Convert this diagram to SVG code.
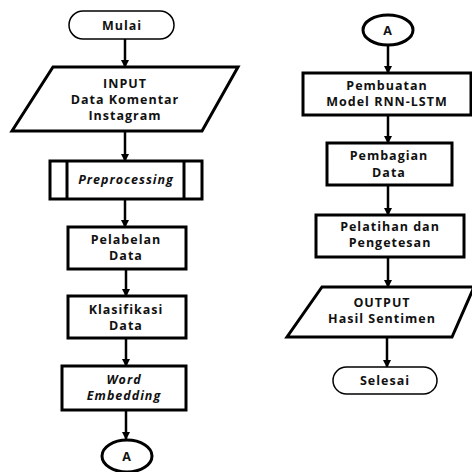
<svg xmlns="http://www.w3.org/2000/svg" width="472" height="472" viewBox="0 0 472 472">
<defs>
<marker id="ah" markerWidth="8" markerHeight="8" refX="7" refY="4" orient="auto" markerUnits="userSpaceOnUse">
<path d="M0,0 L8,4 L0,8 Z" fill="#000"/>
</marker>
<style>
.thin{fill:#fff;stroke:#000;stroke-width:1.5}
.thick{fill:#fff;stroke:#000;stroke-width:3}
.c{stroke:#000;stroke-width:2.5;fill:none;marker-end:url(#ah)}
text{font-family:"Open Sans","DejaVu Sans",sans-serif;font-weight:bold;font-size:12.5px;text-anchor:middle;fill:#111;letter-spacing:1px}
.i{font-style:italic}
</style>
</defs>
<rect width="472" height="472" fill="#fff"/>
<g id="connectors">
<line class="c" x1="125" y1="39" x2="125" y2="67"/>
<line class="c" x1="125" y1="131" x2="125" y2="161"/>
<line class="c" x1="125" y1="199" x2="125" y2="227"/>
<line class="c" x1="126" y1="269" x2="126" y2="296"/>
<line class="c" x1="126" y1="338" x2="126" y2="366"/>
<line class="c" x1="126" y1="410" x2="126" y2="439"/>
<line class="c" x1="388" y1="45" x2="388" y2="73"/>
<line class="c" x1="388" y1="115" x2="388" y2="143"/>
<line class="c" x1="388" y1="185" x2="388" y2="215"/>
<line class="c" x1="388" y1="257" x2="388" y2="287"/>
<line class="c" x1="387" y1="337" x2="387" y2="367"/>
</g>
<g id="mulai">
<rect class="thin" x="69" y="11" width="105" height="28" rx="14"/>
<text x="122" y="30">Mulai</text>
</g>
<g id="input">
<polygon class="thick" points="53,67 238,67 202,131 12,131"/>
<text x="125" y="88">INPUT</text>
<text x="125" y="104">Data Komentar</text>
<text x="125" y="120">Instagram</text>
</g>
<g id="preprocessing">
<rect class="thick" x="50" y="161" width="152" height="38"/>
<line x1="67" y1="161" x2="67" y2="199" stroke="#000" stroke-width="3"/>
<line x1="184" y1="161" x2="184" y2="199" stroke="#000" stroke-width="3"/>
<text class="i" x="126" y="184">Preprocessing</text>
</g>
<g id="pelabelan">
<rect class="thick" x="68" y="227" width="118" height="42"/>
<text x="126" y="244">Pelabelan</text>
<text x="126" y="260">Data</text>
</g>
<g id="klasifikasi">
<rect class="thick" x="68" y="296" width="118" height="42"/>
<text x="126" y="314">Klasifikasi</text>
<text x="126" y="330">Data</text>
</g>
<g id="wordembedding">
<rect class="thick" x="62" y="366" width="124" height="44"/>
<text class="i" x="124" y="384">Word</text>
<text class="i" x="124" y="400">Embedding</text>
</g>
<g id="a-bottom">
<ellipse class="thick" cx="127" cy="456" rx="25" ry="16"/>
<text x="127" y="461">A</text>
</g>
<g id="a-top">
<ellipse class="thick" cx="388" cy="30" rx="25" ry="15"/>
<text x="388" y="35">A</text>
</g>
<g id="pembuatan">
<rect class="thick" x="303" y="73" width="168" height="42"/>
<text x="387" y="90">Pembuatan</text>
<text x="387" y="106">Model RNN-LSTM</text>
</g>
<g id="pembagian">
<rect class="thick" x="327" y="143" width="125" height="42"/>
<text x="389" y="160">Pembagian</text>
<text x="389" y="177">Data</text>
</g>
<g id="pelatihan">
<rect class="thick" x="316" y="215" width="148" height="42"/>
<text x="390" y="231">Pelatihan dan</text>
<text x="390" y="247">Pengetesan</text>
</g>
<g id="output">
<polygon class="thick" points="322,287 474,287 452,337 287,337"/>
<text x="382" y="307">OUTPUT</text>
<text x="382" y="323">Hasil Sentimen</text>
</g>
<g id="selesai">
<rect class="thin" x="333" y="367" width="104" height="27" rx="13.5"/>
<text x="385" y="385">Selesai</text>
</g>
</svg>
